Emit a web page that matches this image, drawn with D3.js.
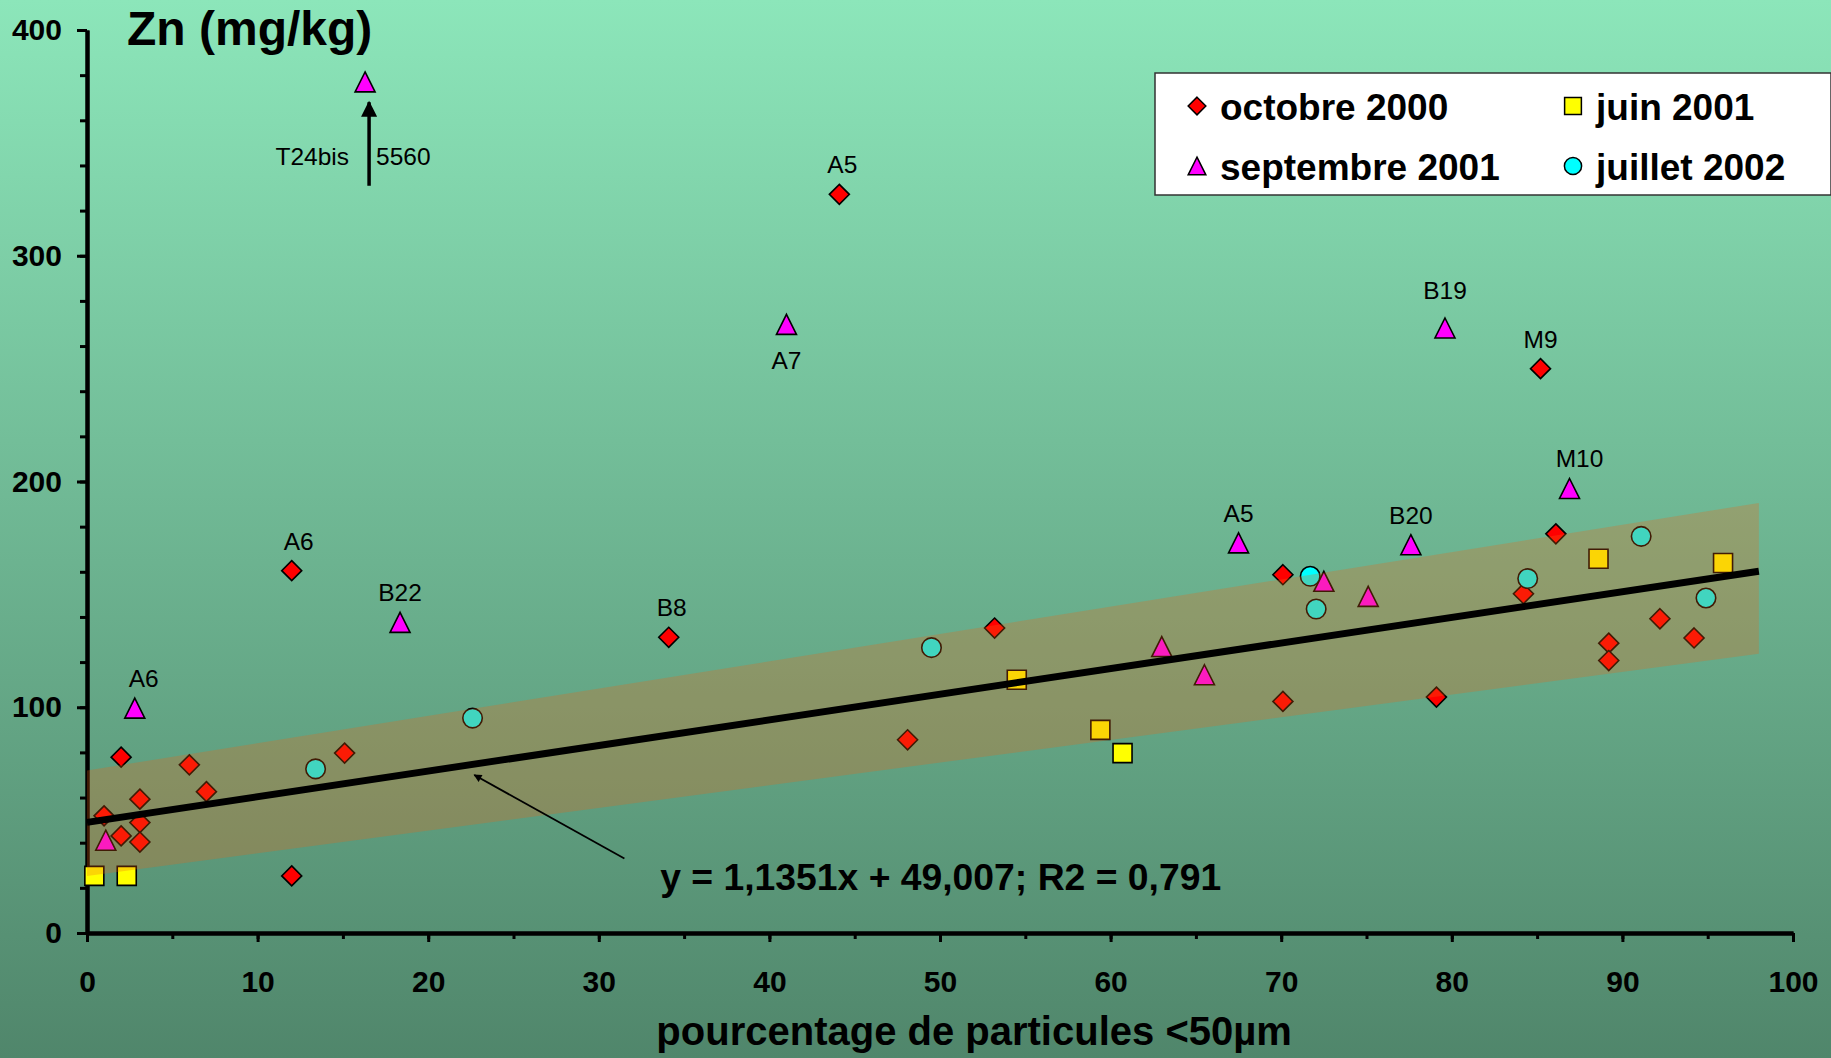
<!DOCTYPE html>
<html>
<head>
<meta charset="utf-8">
<script src="https://cdn.jsdelivr.net/npm/d3@7"></script>
<style>
  html, body { margin: 0; padding: 0; overflow: hidden; background: #6fb896; }
  text { font-family: "Liberation Sans", Arial, Helvetica, sans-serif; }
</style>
</head>
<body>
<svg id="chart"></svg>
<script>
// ---- data: [% particles < 50 µm, Zn (mg/kg), site label] ----
const octobre2000 = [
  [1.0, 51.9], [2.0, 77.9], [2.0, 43.0], [3.1, 59.3], [3.1, 48.9], [3.1, 40.3],
  [6.0, 74.5], [7.0, 62.6], [12.0, 160.5, "A6"], [12.0, 25.3], [15.1, 79.7],
  [34.1, 131.0, "B8"], [44.1, 327.2, "A5"], [48.1, 85.6], [53.2, 135.1],
  [70.1, 158.7], [70.1, 102.6], [79.1, 104.5], [84.2, 150.3], [85.2, 250.0, "M9"],
  [86.1, 176.8], [89.2, 128.4], [89.2, 120.7], [92.2, 139.2], [94.2, 130.7]
];
const septembre2001 = [
  [1.1, 41.1], [2.8, 99.6, "A6"], [16.3, 5560, "T24bis"], [18.35, 137.6, "B22"],
  [41.0, 269.6, "A7"], [63.0, 126.9], [65.5, 114.4], [67.5, 172.8, "A5"],
  [72.5, 155.8], [75.1, 149.1], [77.6, 172.0, "B20"], [79.6, 268.0, "B19"],
  [86.9, 196.9, "M10"]
];
const juin2001 = [
  [0.43, 25.3], [2.33, 25.3], [54.5, 112.2], [59.4, 90.0], [60.7, 79.7],
  [88.6, 165.8], [95.9, 163.9]
];
const juillet2002 = [
  [13.4, 72.7], [22.6, 95.2], [49.5, 126.4], [71.7, 158.0], [72.05, 143.5],
  [84.45, 157.0], [91.1, 175.7], [94.9, 148.4]
];
const seriesNames = ["octobre 2000", "juin 2001", "septembre 2001", "juillet 2002"];
const labelsBelow = ["A7"];

// linear fit and its envelope
const slope = 1.1351, intercept = 49.007, r2 = 0.791;
const fitRange = [0, 98];
const bandX = [0, 98];
const bandUpper = [72.0, 190.5];
const bandLower = [25.3, 123.7];

// axis ticks
const xMajorTicks = d3.range(0, 101, 10);
const xMinorTicks = d3.range(0, 101, 5);
const yMajorTicks = d3.range(0, 401, 100);
const yMinorTicks = d3.range(0, 401, 20);

// off-scale values are drawn at this level with an upward arrow
const offScaleLevel = 377;
const offScaleArrow = [331, 368];

// arrow pointing from the equation to the fit line
const eqArrowFrom = [31.5, 33];
const eqArrowTo = [22.7, 70];
const eqTextAt = [33.6, 19];

// small pixel nudges for a few site labels (series index + name)
const labelNudge = {
  "0:A6": [7, 0], "2:A6": [9, 0], "0:B8": [3, 0], "0:A5": [3, 0],
  "2:M10": [10, 0], "2:B19": [0, -8]
};

// ---- layout ----
const W = 1831, H = 1058;
const svg = d3.select("#chart").attr("width", W).attr("height", H);
const x = d3.scaleLinear([0, 100], [87, 1793]);
const y = d3.scaleLinear([0, 400], [933, 30]);
const yPlot = v => y(v > 400 ? offScaleLevel : v);

const defs = svg.append("defs");
const grad = defs.append("linearGradient").attr("id", "bg")
  .attr("x1", 0).attr("y1", 0).attr("x2", 0).attr("y2", 1);
grad.append("stop").attr("offset", 0).attr("stop-color", "#8ce6ba");
grad.append("stop").attr("offset", 1).attr("stop-color", "#50866b");
defs.append("marker").attr("id", "head").attr("viewBox", "0 0 10 10")
  .attr("refX", 9).attr("refY", 5).attr("markerWidth", 10).attr("markerHeight", 8)
  .attr("markerUnits", "userSpaceOnUse").attr("orient", "auto")
  .append("path").attr("d", "M0,0 L10,5 L0,10 Z").attr("fill", "#000");
defs.append("marker").attr("id", "headBig").attr("viewBox", "0 0 10 10")
  .attr("refX", 9).attr("refY", 5).attr("markerWidth", 17).attr("markerHeight", 16)
  .attr("markerUnits", "userSpaceOnUse").attr("orient", "auto")
  .append("path").attr("d", "M0,0 L10,5 L0,10 Z").attr("fill", "#000");

svg.append("rect").attr("width", W).attr("height", H).attr("fill", "url(#bg)");

// ---- axes ----
function styleAxis(g, width) {
  g.select(".domain").attr("stroke", "#000").attr("stroke-width", width);
  g.selectAll(".tick line").attr("stroke", "#000").attr("stroke-width", 3);
  g.selectAll(".tick text").attr("fill", "#000")
    .style("font-size", "30px").style("font-weight", "bold")
    .style("font-family", '"Liberation Sans", Arial, sans-serif');
}
svg.append("g").attr("transform", `translate(${x(0)},0)`)
  .call(d3.axisLeft(y).tickValues(yMinorTicks).tickSize(7).tickSizeOuter(0).tickFormat(""))
  .call(g => styleAxis(g, 4));
svg.append("g").attr("transform", `translate(${x(0)},0)`)
  .call(d3.axisLeft(y).tickValues(yMajorTicks).tickSize(10).tickSizeOuter(0).tickPadding(15))
  .call(g => styleAxis(g, 4));
svg.append("g").attr("transform", `translate(0,${y(0)})`)
  .call(d3.axisBottom(x).tickValues(xMinorTicks).tickSize(6).tickSizeOuter(0).tickFormat(""))
  .call(g => styleAxis(g, 4));
svg.append("g").attr("transform", `translate(0,${y(0)})`)
  .call(d3.axisBottom(x).tickValues(xMajorTicks).tickSize(9).tickSizeOuter(0).tickPadding(29))
  .call(g => styleAxis(g, 4));

svg.append("text").attr("x", 127).attr("y", 45)
  .style("font-size", "48px").style("font-weight", "bold").text("Zn (mg/kg)");
svg.append("text").attr("x", x(52.0)).attr("y", 1045).attr("text-anchor", "middle")
  .style("font-size", "40px").style("font-weight", "bold")
  .text("pourcentage de particules <50µm");

// ---- markers ----
const triangle = {
  draw(ctx, size) {
    const h = Math.sqrt(size);
    ctx.moveTo(0, -h / 2);
    ctx.lineTo(h / 2, h / 2);
    ctx.lineTo(-h / 2, h / 2);
    ctx.closePath();
  }
};
const diamond = {
  draw(ctx, size) {
    const h = Math.sqrt(size) / 2;
    ctx.moveTo(0, -h); ctx.lineTo(h, 0); ctx.lineTo(0, h); ctx.lineTo(-h, 0); ctx.closePath();
  }
};
const square = {
  draw(ctx, size) {
    const h = Math.sqrt(size) / 2;
    ctx.rect(-h, -h, 2 * h, 2 * h);
  }
};
const circle = {
  draw(ctx, size) {
    const r = Math.sqrt(size) / 2;
    ctx.moveTo(r, 0); ctx.arc(0, 0, r, 0, 2 * Math.PI);
  }
};
const series = [
  { name: seriesNames[0], data: octobre2000, fill: "#ff0000", shape: diamond, size: 400 },
  { name: seriesNames[1], data: juin2001, fill: "#ffff00", shape: square, size: 361 },
  { name: seriesNames[2], data: septembre2001, fill: "#ff00ff", shape: triangle, size: 400 },
  { name: seriesNames[3], data: juillet2002, fill: "#00ffff", shape: circle, size: 380 }
];
const pts = svg.append("g");
series.forEach(s => {
  pts.selectAll(null).data(s.data).join("path")
    .attr("transform", d => `translate(${x(d[0])},${yPlot(d[1])})`)
    .attr("d", d3.symbol(s.shape, s.size)())
    .attr("fill", s.fill).attr("stroke", "#000").attr("stroke-width", 1.6);
});

// ---- envelope of the fit (translucent, over the points) ----
const band = bandX.map((v, i) => [v, bandLower[i], bandUpper[i]]);
svg.append("path").datum(band)
  .attr("d", d3.area().x(d => x(d[0])).y0(d => y(d[1])).y1(d => y(d[2])))
  .attr("fill", "rgb(240,100,20)").attr("fill-opacity", 0.27);

svg.append("path").datum(fitRange)
  .attr("d", d3.line().x(d => x(d)).y(d => y(intercept + slope * d)))
  .attr("stroke", "#000").attr("stroke-width", 7).attr("fill", "none");

svg.append("line")
  .attr("x1", x(eqArrowFrom[0])).attr("y1", y(eqArrowFrom[1]))
  .attr("x2", x(eqArrowTo[0])).attr("y2", y(eqArrowTo[1]))
  .attr("stroke", "#000").attr("stroke-width", 1.8).attr("marker-end", "url(#head)");
const fmt = v => String(v).replace(".", ",");
svg.append("text").attr("x", x(eqTextAt[0])).attr("y", y(eqTextAt[1]))
  .style("font-size", "37.3px").style("font-weight", "bold")
  .text(`y = ${fmt(slope)}x + ${fmt(intercept.toFixed(3))}; R2 = ${fmt(r2)}`);

// ---- site labels ----
series.forEach((s, si) => {
  s.data.filter(d => d[2]).forEach(d => {
    const px = x(d[0]), py = yPlot(d[1]);
    const [nx, ny] = labelNudge[`${si}:${d[2]}`] || [0, 0];
    if (d[1] > 400) {
      // off-scale value: arrow with site name on the left and value on the right
      svg.append("line").attr("x1", px + 4).attr("x2", px + 4)
        .attr("y1", y(offScaleArrow[0])).attr("y2", y(offScaleArrow[1]))
        .attr("stroke", "#000").attr("stroke-width", 3.5).attr("marker-end", "url(#headBig)");
      svg.append("text").attr("x", px - 16).attr("y", 165).attr("text-anchor", "end")
        .style("font-size", "24.5px").text(d[2]);
      svg.append("text").attr("x", px + 11).attr("y", 165)
        .style("font-size", "24.5px").text(d[1]);
    } else {
      const below = labelsBelow.includes(d[2]);
      svg.append("text").attr("x", px + nx).attr("y", (below ? py + 45 : py - 21) + ny)
        .attr("text-anchor", "middle").style("font-size", "24.5px").text(d[2]);
    }
  });
});

// ---- legend ----
const lg = svg.append("g").attr("transform", "translate(1155,73)");
lg.append("rect").attr("width", 676).attr("height", 122)
  .attr("fill", "#fff").attr("stroke", "#333").attr("stroke-width", 1.5);
const legendPos = [[42, 33], [418, 33], [42, 93], [418, 93]];
series.forEach((s, i) => {
  const [lx, ly] = legendPos[i];
  lg.append("path").attr("transform", `translate(${lx},${ly})`)
    .attr("d", d3.symbol(s.shape, s.size * 0.78)())
    .attr("fill", s.fill).attr("stroke", "#000").attr("stroke-width", 1.5);
  lg.append("text").attr("x", lx + 23).attr("y", ly + 14)
    .style("font-size", "37px").style("font-weight", "bold").text(s.name);
});
</script>
</body>
</html>
